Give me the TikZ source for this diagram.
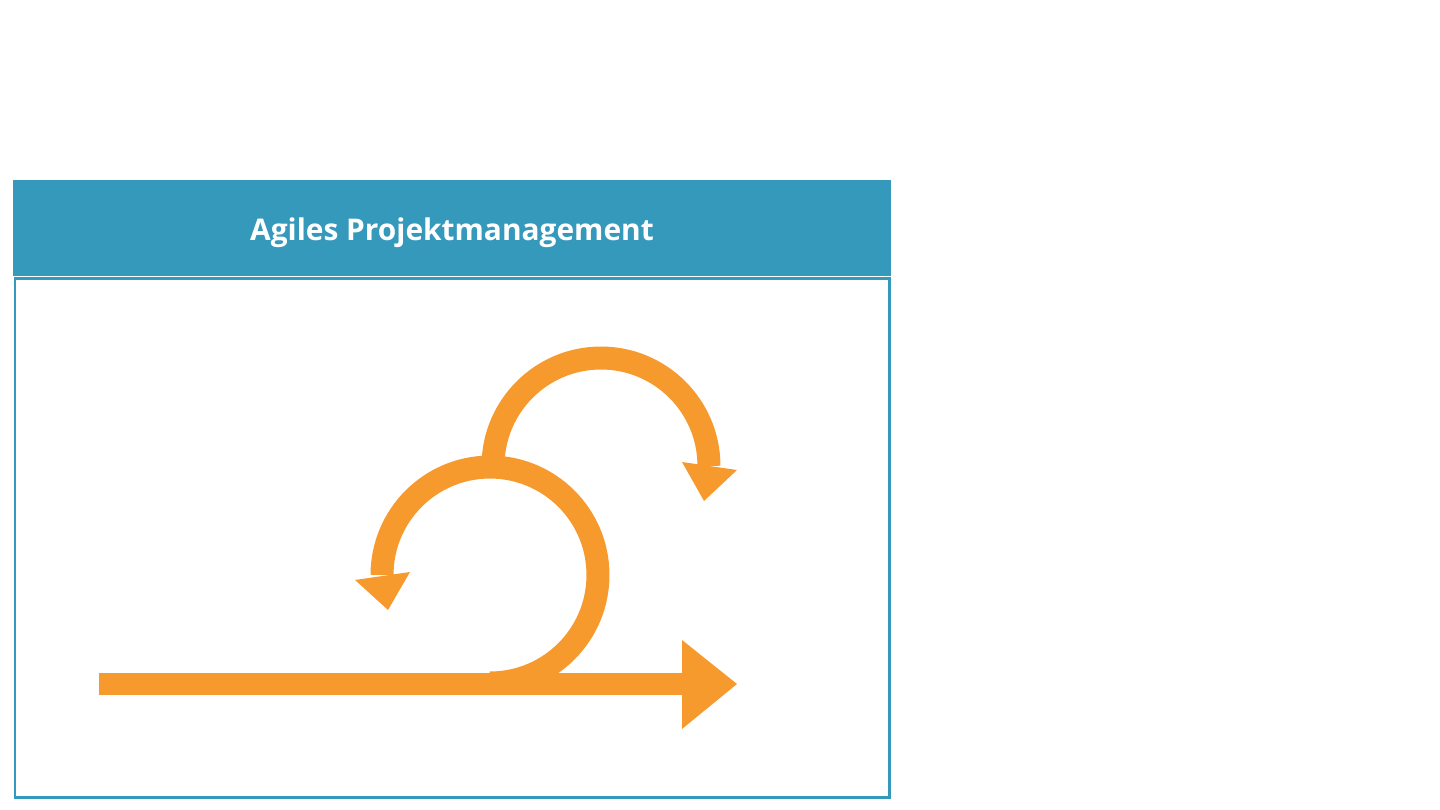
\documentclass[tikz,border=0pt]{standalone}
\usepackage{fontspec}
\setmainfont{Open Sans}

\definecolor{headblue}{RGB}{53,153,188}
\definecolor{looporange}{RGB}{247,154,46}

\begin{document}
\begin{tikzpicture}[x=0.02cm,y=-0.02cm,
    flow/.style={draw=looporange,line width=0.46cm},
    head/.style={fill=looporange}]
  \useasboundingbox (0,0) rectangle (1440,810);

  \fill[headblue] (13,180) rectangle (891,276);
  \node[text=white,font=\bfseries\fontsize{17}{20}\selectfont] (title) at (452,233) {Agiles Projektmanagement};
  \draw[headblue,line width=0.06cm] (15,278.5) rectangle (889.5,797);

  % straight line
  \draw[flow] (99,684) -- (683,684);
  \fill[head] (682,640) -- (737,684) -- (682,729) -- cycle;

  % loops
  \draw[flow] (490,683) arc[start angle=-90,end angle=180,radius=2.16cm];
  \fill[head] (355,580) -- (410,572) -- (388,610) -- cycle;

  \draw[flow] (493,466) arc[start angle=180,end angle=0,radius=2.16cm];
  \fill[head] (682,462) -- (737,470) -- (704,501) -- cycle;

\end{tikzpicture}
\end{document}
